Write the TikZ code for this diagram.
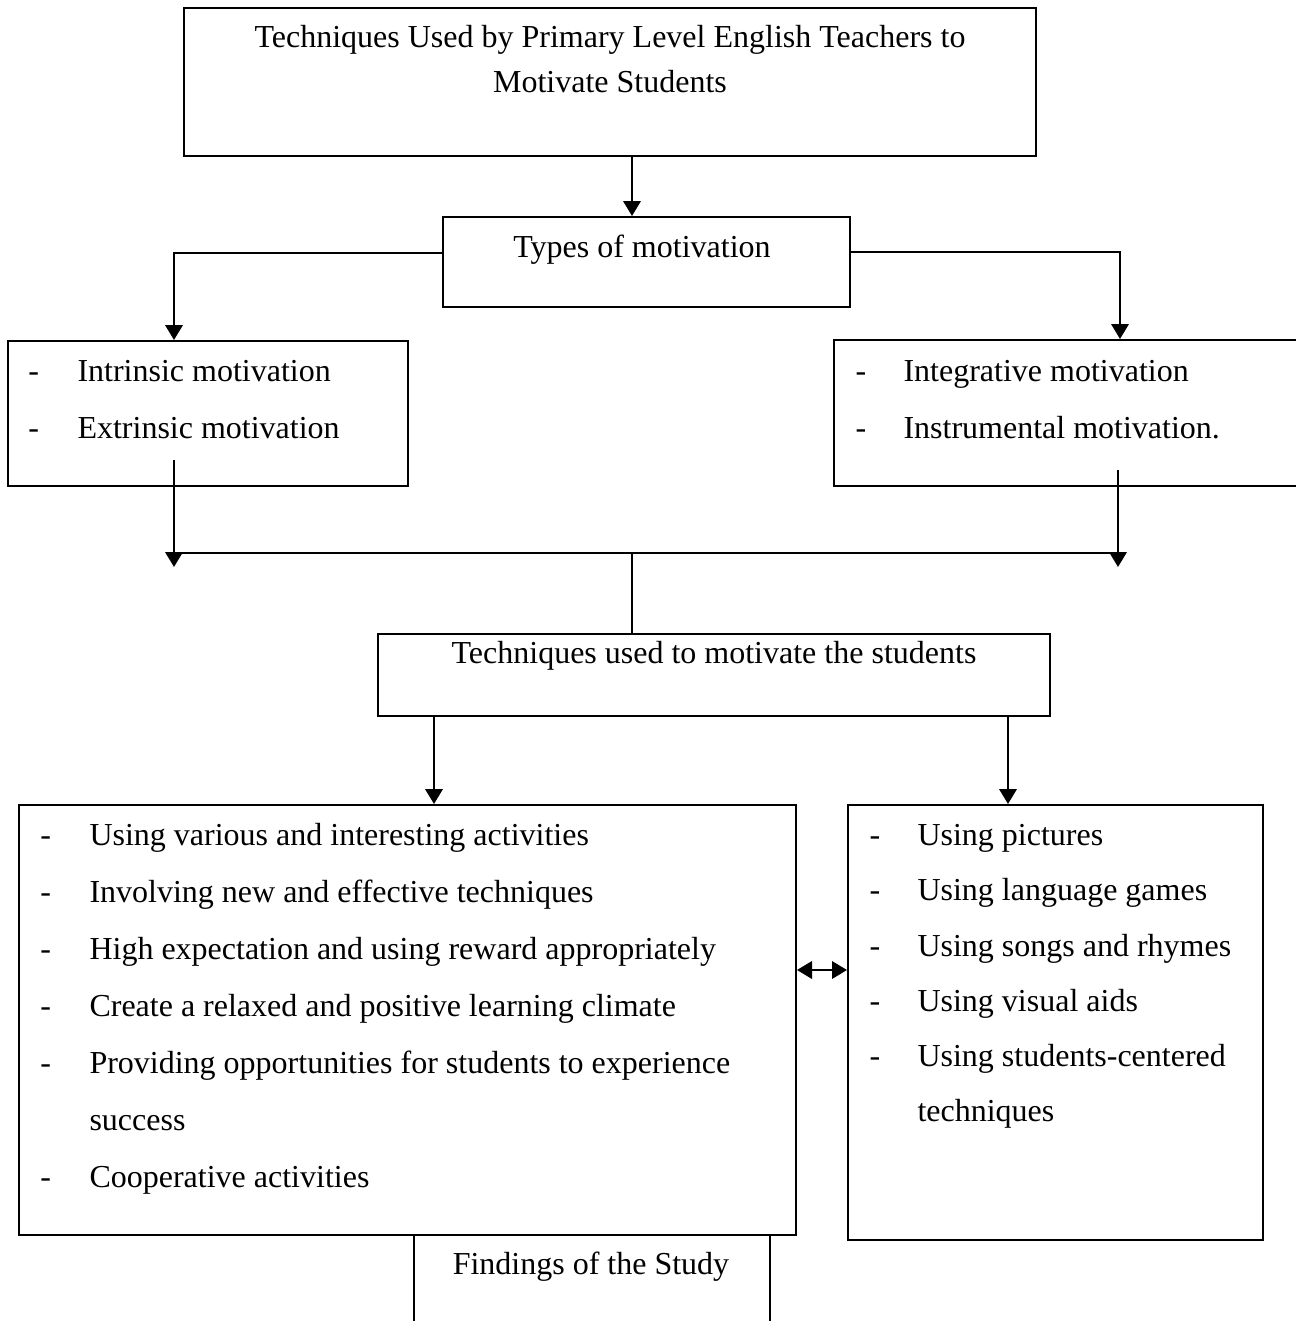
\documentclass[tikz,border=0pt]{standalone}
\usepackage{fontspec}
\setmainfont{Liberation Serif}
\usetikzlibrary{calc}
\usetikzlibrary{arrows.meta}

\begin{document}
\begin{tikzpicture}[x=0.4pt,y=-0.4pt,
    box/.style 2 args={draw,line width=0.8pt,minimum width={#1*0.4pt},minimum height={#2*0.4pt},inner sep=0pt},
    txt/.style={anchor=base west,inner sep=0pt,font=\fontsize{12.8}{15}\selectfont},
    ctxt/.style={anchor=base,inner sep=0pt,font=\fontsize{12.8}{15}\selectfont},
    ln/.style={line width=0.8pt},
    arr/.style={line width=0.8pt,-{Triangle[width=7pt,length=6pt]}}]

        \useasboundingbox (0,0) rectangle (1295,1321);

        % The boxes
        \node[box={852}{148}] (top) at (610,82) {};
        \node[box={407}{90}] (types) at (646.5,262) {};
        \node[box={400}{145}] (intr) at (208,413.5) {};
        \node[box={486}{146}] (integ) at (1077,413) {};
        \node[box={672}{82}] (tech) at (714,675) {};
        \node[box={777}{430}] (act) at (407.5,1020) {};
        \node[box={415}{435}] (aids) at (1055.5,1022.5) {};
        \node[box={356}{110}] (find) at (592,1290) {};

        % Titles
        \node[ctxt] (topa) at (610,47) {Techniques Used by Primary Level English Teachers to};
        \node[ctxt] (topb) at (610,92) {Motivate Students};
        \node[ctxt] (typest) at (642,257) {Types of motivation};
        \node[ctxt] (techt) at (714,663) {Techniques used to motivate the students};
        \node[ctxt] (findt) at (591,1274) {Findings of the Study};

        % Types of motivation
        \node[txt] (d1) at (28,381) {-};
        \node[txt] (i1) at (77,381) {Intrinsic motivation};
        \node[txt] (d2) at (28,438) {-};
        \node[txt] (i2) at (77,438) {Extrinsic motivation};
        \node[txt] (d3) at (855,381) {-};
        \node[txt] (i3) at (903,381) {Integrative motivation};
        \node[txt] (d4) at (855,438) {-};
        \node[txt] (i4) at (903,438) {Instrumental motivation.};

        % Techniques, left list
        \node[txt] (a1d) at (40,845) {-};
        \node[txt] (a1) at (89,845) {Using various and interesting activities};
        \node[txt] (a2d) at (40,902) {-};
        \node[txt] (a2) at (89,902) {Involving new and effective techniques};
        \node[txt] (a3d) at (40,959) {-};
        \node[txt] (a3) at (89,959) {High expectation and using reward appropriately};
        \node[txt] (a4d) at (40,1016) {-};
        \node[txt] (a4) at (89,1016) {Create a relaxed and positive learning climate};
        \node[txt] (a5d) at (40,1073) {-};
        \node[txt] (a5) at (89,1073) {Providing opportunities for students to experience};
        \node[txt] (a5b) at (89,1130) {success};
        \node[txt] (a6d) at (40,1187) {-};
        \node[txt] (a6) at (89,1187) {Cooperative activities};

        % Techniques, right list
        \node[txt] (b1d) at (869,845) {-};
        \node[txt] (b1) at (917,845) {Using pictures};
        \node[txt] (b2d) at (869,900) {-};
        \node[txt] (b2) at (917,900) {Using language games};
        \node[txt] (b3d) at (869,956) {-};
        \node[txt] (b3) at (917,956) {Using songs and rhymes};
        \node[txt] (b4d) at (869,1011) {-};
        \node[txt] (b4) at (917,1011) {Using visual aids};
        \node[txt] (b5d) at (869,1066) {-};
        \node[txt] (b5) at (917,1066) {Using students-centered};
        \node[txt] (b5b) at (917,1121) {techniques};

        % Connectors
        \draw[arr] (top.south -| 632,0) -- (types.north -| 632,0);
        \draw[arr] (types.west |- 0,253) -| (intr.north -| 174,0);
        \draw[arr] (types.east |- 0,252) -| (integ.north -| 1120,0);

        \coordinate (il) at (174,460);
        \coordinate (ir) at (1118,470);
        \coordinate (jl) at (174,567);
        \coordinate (jr) at (1118,567);
        \coordinate (hl) at (174,553);
        \coordinate (hr) at (1118,553);
        \coordinate (hm) at (632,553);
        \draw[arr] (il) -- (jl);
        \draw[arr] (ir) -- (jr);
        \draw[ln] (hl) -- (hr);
        \draw[ln] (hm) -- (tech.north -| hm);

        \draw[arr] (tech.south -| 434,0) -- (act.north -| 434,0);
        \draw[arr] (tech.south -| 1008,0) -- (aids.north -| 1008,0);
        \draw[line width=0.8pt,{Triangle[width=7pt,length=6pt]}-{Triangle[width=7pt,length=6pt]}] (act.east |- 0,970) -- (aids.west |- 0,970);
\end{tikzpicture}
\end{document}
